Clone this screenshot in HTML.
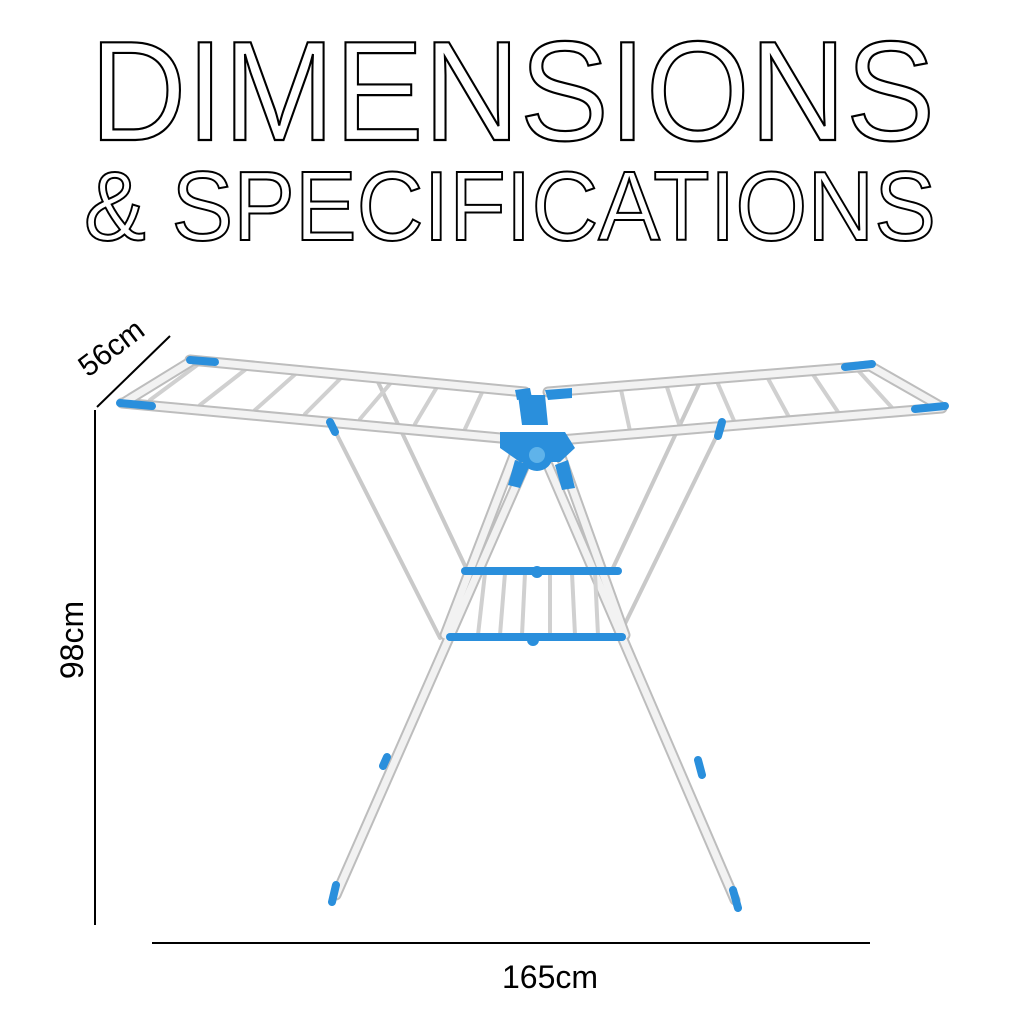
<!DOCTYPE html>
<html><head><meta charset="utf-8"><style>
html,body{margin:0;padding:0;background:#fff;}
svg{display:block}
text{font-family:"Liberation Sans",sans-serif;}
</style></head><body>
<svg width="1024" height="1024" viewBox="0 0 1024 1024" xmlns="http://www.w3.org/2000/svg">
<rect width="1024" height="1024" fill="#fff"/>
<text x="90" y="140" font-size="142" textLength="845" lengthAdjust="spacingAndGlyphs" fill="none" stroke="#000" stroke-width="2.2">DIMENSIONS</text>
<text x="84" y="240" font-size="98" textLength="852" lengthAdjust="spacingAndGlyphs" fill="none" stroke="#000" stroke-width="2">&amp; SPECIFICATIONS</text>

<line x1="97" y1="407" x2="170" y2="336" stroke="#000" stroke-width="2"/>
<text x="0" y="0" font-size="30" transform="translate(88,378) rotate(-37)">56cm</text>
<line x1="95" y1="410" x2="95" y2="925" stroke="#000" stroke-width="2"/>
<text x="0" y="0" font-size="32" text-anchor="middle" transform="translate(83,640) rotate(-90)">98cm</text>
<line x1="152" y1="943" x2="870" y2="943" stroke="#000" stroke-width="2"/>
<text x="550" y="988" font-size="32" text-anchor="middle">165cm</text>

<g stroke-linecap="round">
<g stroke="#c9c9c9" stroke-width="4">
<line x1="332" y1="425" x2="440" y2="638"/>
<line x1="722" y1="425" x2="618" y2="638"/>
<line x1="378" y1="382" x2="467" y2="570"/>
<line x1="700" y1="382" x2="612" y2="570"/>
</g>
<g stroke="#d0d0d0" stroke-width="4">
<line x1="200" y1="363" x2="150" y2="400"/>
<line x1="250" y1="366" x2="200" y2="405"/>
<line x1="300" y1="370" x2="255" y2="410"/>
<line x1="345" y1="374" x2="305" y2="414"/>
<line x1="395" y1="378" x2="360" y2="419"/>
<line x1="440" y1="382" x2="415" y2="424"/>
<line x1="485" y1="386" x2="465" y2="429"/>
<line x1="620" y1="385" x2="630" y2="431"/>
<line x1="665" y1="381" x2="680" y2="427"/>
<line x1="715" y1="377" x2="735" y2="423"/>
<line x1="765" y1="373" x2="790" y2="419"/>
<line x1="810" y1="370" x2="840" y2="415"/>
<line x1="855" y1="367" x2="895" y2="411"/>
</g>
<g stroke="#bdbdbd" stroke-width="11">
<line x1="190" y1="360" x2="525" y2="392"/>
<line x1="122" y1="403" x2="522" y2="440"/>
<line x1="190" y1="362" x2="125" y2="402"/>
<line x1="548" y1="392" x2="870" y2="366"/>
<line x1="560" y1="440" x2="942" y2="408"/>
<line x1="870" y1="366" x2="940" y2="406"/>
<line x1="525" y1="465" x2="336" y2="895"/>
<line x1="548" y1="465" x2="735" y2="900"/>
<line x1="520" y1="440" x2="445" y2="635"/>
<line x1="555" y1="440" x2="625" y2="635"/>
</g>
<g stroke="#f2f2f2" stroke-width="7">
<line x1="190" y1="360" x2="525" y2="392"/>
<line x1="122" y1="403" x2="522" y2="440"/>
<line x1="190" y1="362" x2="125" y2="402"/>
<line x1="548" y1="392" x2="870" y2="366"/>
<line x1="560" y1="440" x2="942" y2="408"/>
<line x1="870" y1="366" x2="940" y2="406"/>
<line x1="525" y1="465" x2="336" y2="895"/>
<line x1="548" y1="465" x2="735" y2="900"/>
<line x1="520" y1="440" x2="445" y2="635"/>
<line x1="555" y1="440" x2="625" y2="635"/>
</g>
<g stroke="#d0d0d0" stroke-width="4">
<line x1="485" y1="573" x2="478" y2="635"/>
<line x1="505" y1="573" x2="500" y2="635"/>
<line x1="525" y1="573" x2="522" y2="635"/>
<line x1="550" y1="573" x2="550" y2="635"/>
<line x1="572" y1="573" x2="575" y2="635"/>
<line x1="595" y1="573" x2="598" y2="635"/>
</g>
<g stroke="#2a8fdc" stroke-width="8">
<line x1="465" y1="571" x2="618" y2="571"/>
<line x1="450" y1="637" x2="622" y2="637"/>
<line x1="336" y1="885" x2="332" y2="902"/>
<line x1="733" y1="890" x2="738" y2="908"/>
<line x1="120" y1="403" x2="152" y2="406"/>
<line x1="915" y1="409" x2="945" y2="406"/>
<line x1="190" y1="360" x2="215" y2="362"/>
<line x1="845" y1="367" x2="872" y2="364"/>
<line x1="383" y1="766" x2="387" y2="757"/>
<line x1="698" y1="760" x2="702" y2="775"/>
<line x1="330" y1="422" x2="335" y2="432"/>
<line x1="722" y1="422" x2="718" y2="436"/>
</g>
<g fill="#2a8fdc">
<polygon points="500,432 565,432 575,448 560,462 520,462 500,448"/>
<polygon points="515,460 530,465 520,488 508,485"/>
<polygon points="555,465 568,460 575,488 562,490"/>
<polygon points="518,395 545,395 548,425 522,425"/>
<polygon points="515,390 530,388 532,398 517,400"/>
<polygon points="545,390 572,388 572,398 548,400"/>
<circle cx="537" cy="455" r="16"/>
<circle cx="537" cy="572" r="6"/>
<circle cx="533" cy="640" r="6"/>
</g>
<circle cx="537" cy="455" r="8" fill="#5fb3ea"/>
</g>
</svg>
</body></html>
